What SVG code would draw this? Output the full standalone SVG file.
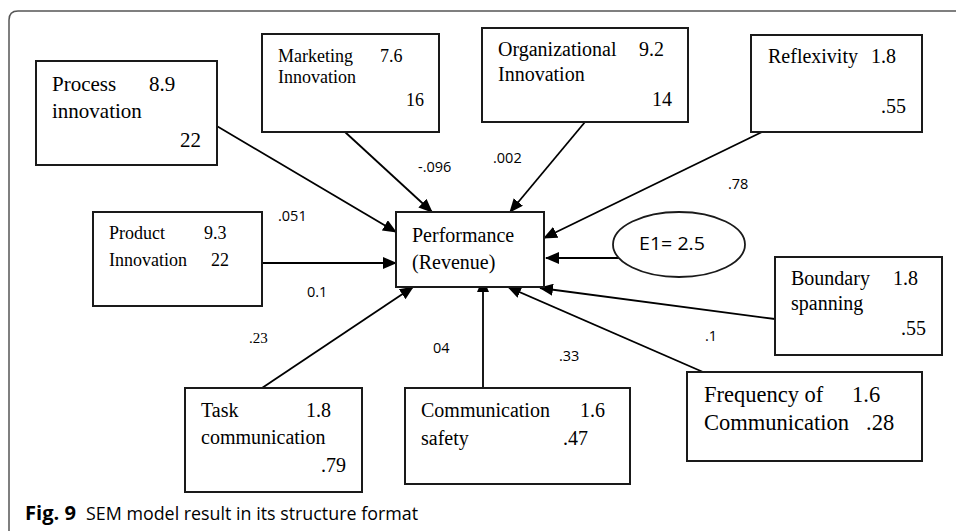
<svg xmlns="http://www.w3.org/2000/svg" width="956" height="531" viewBox="0 0 956 531">
<defs>
<marker id="ah" markerUnits="userSpaceOnUse" markerWidth="14" markerHeight="12" refX="13" refY="6" orient="auto">
<path d="M0,0 L14,6 L0,12 Z" fill="#000"/>
</marker>
<style>
.box{fill:#fff;stroke:#1a1a1a;stroke-width:2}
.t{font-family:"Liberation Serif","Times New Roman",serif;fill:#000}
.l{font-family:"Open Sans","Liberation Sans",sans-serif;font-size:14.5px;fill:#000}
.c{stroke:#000;stroke-width:1.8;fill:none;marker-end:url(#ah)}
.cap{font-family:"Open Sans","Liberation Sans",sans-serif;font-size:19px;fill:#000}
</style>
</defs>
<rect width="956" height="531" fill="#fff"/>
<path d="M956,11 H18 Q9,11 9,20 V531" fill="none" stroke="#555" stroke-width="1.5"/>

<g id="connectors">
<line class="c" x1="210" y1="122" x2="396" y2="232"/>
<line class="c" x1="345" y1="132" x2="432" y2="212"/>
<line class="c" x1="585" y1="122" x2="510" y2="212"/>
<line class="c" x1="762" y1="132" x2="544" y2="238"/>
<line class="c" x1="262" y1="263" x2="396" y2="263"/>
<line class="c" x1="620" y1="258" x2="546" y2="258"/>
<line class="c" x1="262" y1="388" x2="413" y2="287"/>
<line class="c" x1="483" y1="388" x2="483" y2="279"/>
<line class="c" x1="703" y1="372" x2="508" y2="287"/>
<line class="c" x1="775" y1="319" x2="540" y2="288"/>
</g>

<g id="labels">
<text class="l" x="278" y="221">.051</text>
<text class="l" x="418" y="172">-.096</text>
<text class="l" x="493" y="163">.002</text>
<text class="l" x="728" y="189">.78</text>
<text class="l" x="307" y="297">0.1</text>
<text class="t" x="249" y="343" font-size="15">.23</text>
<text class="l" x="433" y="353">04</text>
<text class="l" x="559" y="361">.33</text>
<text class="l" x="705" y="341" font-size="13">.1</text>
</g>

<g id="process">
<rect class="box" x="36" y="61" width="181" height="104"/>
<text class="t" font-size="21" x="52" y="91">Process</text>
<text class="t" font-size="21" x="149" y="91">8.9</text>
<text class="t" font-size="21" x="52" y="118">innovation</text>
<text class="t" font-size="21" x="201" y="147" text-anchor="end">22</text>
</g>

<g id="marketing">
<rect class="box" x="262" y="34" width="177" height="98"/>
<text class="t" font-size="18" x="278" y="62">Marketing</text>
<text class="t" font-size="18" x="380" y="62">7.6</text>
<text class="t" font-size="18" x="278" y="83">Innovation</text>
<text class="t" font-size="18" x="424" y="106" text-anchor="end">16</text>
</g>

<g id="organizational">
<rect class="box" x="482" y="28" width="206" height="94"/>
<text class="t" font-size="20" x="498" y="56">Organizational</text>
<text class="t" font-size="20" x="639" y="56">9.2</text>
<text class="t" font-size="20" x="498" y="81">Innovation</text>
<text class="t" font-size="20" x="672" y="106" text-anchor="end">14</text>
</g>

<g id="reflexivity">
<rect class="box" x="751" y="35" width="171" height="97"/>
<text class="t" font-size="20" x="768" y="63">Reflexivity</text>
<text class="t" font-size="20" x="871" y="63">1.8</text>
<text class="t" font-size="20" x="906" y="113" text-anchor="end">.55</text>
</g>

<g id="product">
<rect class="box" x="93" y="212" width="169" height="94"/>
<text class="t" font-size="18" x="109" y="239">Product</text>
<text class="t" font-size="18" x="204" y="239">9.3</text>
<text class="t" font-size="18" x="109" y="266">Innovation</text>
<text class="t" font-size="18" x="211" y="266">22</text>
</g>

<g id="performance">
<rect class="box" x="396" y="212" width="148" height="75"/>
<text class="t" font-size="20" x="412" y="242">Performance</text>
<text class="t" font-size="20" x="412" y="269">(Revenue)</text>
</g>

<g id="e1">
<ellipse cx="679" cy="244.5" rx="66" ry="32.5" fill="#fff" stroke="#1a1a1a" stroke-width="1.8"/>
<text font-family="Open Sans, Liberation Sans, sans-serif" font-size="19" x="639" y="250" textLength="66" lengthAdjust="spacingAndGlyphs">E1= 2.5</text>
</g>

<g id="boundary">
<rect class="box" x="775" y="257" width="167" height="98"/>
<text class="t" font-size="20" x="791" y="285">Boundary</text>
<text class="t" font-size="20" x="893" y="285">1.8</text>
<text class="t" font-size="20" x="791" y="310">spanning</text>
<text class="t" font-size="20" x="926" y="335" text-anchor="end">.55</text>
</g>

<g id="frequency">
<rect class="box" x="687" y="372" width="235" height="89"/>
<text class="t" font-size="22.5" x="704" y="402">Frequency of</text>
<text class="t" font-size="22.5" x="852" y="402">1.6</text>
<text class="t" font-size="22.5" x="704" y="430">Communication</text>
<text class="t" font-size="22.5" x="866" y="430">.28</text>
</g>

<g id="safety">
<rect class="box" x="405" y="388" width="225" height="96"/>
<text class="t" font-size="20" x="421" y="417">Communication</text>
<text class="t" font-size="20" x="580" y="417">1.6</text>
<text class="t" font-size="20" x="421" y="445">safety</text>
<text class="t" font-size="20" x="563" y="445">.47</text>
</g>

<g id="task">
<rect class="box" x="185" y="388" width="177" height="104"/>
<text class="t" font-size="20" x="201" y="417">Task</text>
<text class="t" font-size="20" x="306" y="417">1.8</text>
<text class="t" font-size="20" x="201" y="444">communication</text>
<text class="t" font-size="20" x="346" y="472" text-anchor="end">.79</text>
</g>

<g id="caption">
<text class="cap" x="25" y="520" font-weight="bold" textLength="51" lengthAdjust="spacingAndGlyphs">Fig. 9</text>
<text class="cap" x="86" y="520" textLength="332" lengthAdjust="spacingAndGlyphs">SEM model result in its structure format</text>
</g>
</svg>
